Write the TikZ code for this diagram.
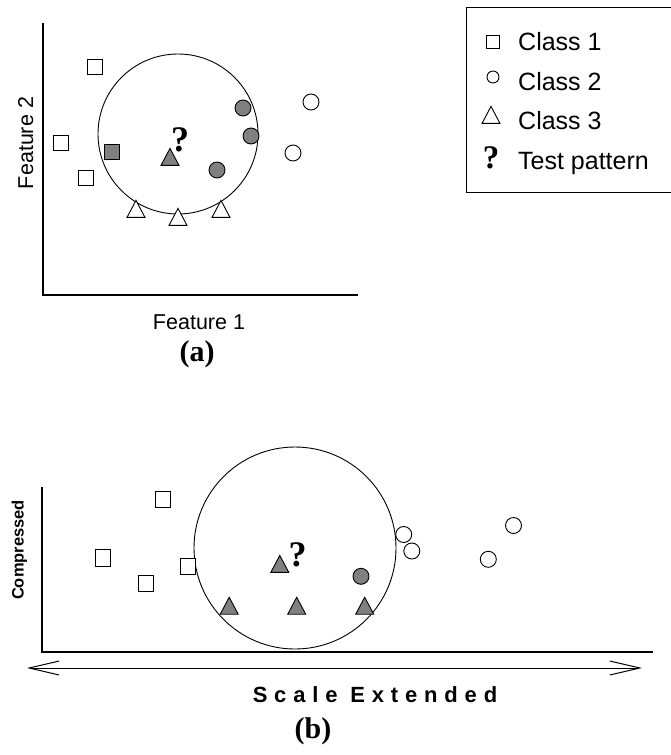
\documentclass[tikz,border=0pt]{standalone}
\usepackage{fontspec}
\setmainfont{Liberation Sans}
\newfontfamily\tnr{Liberation Serif}
\newfontfamily\spaced[LetterSpace=31]{Liberation Sans}
\usetikzlibrary{shapes.geometric,arrows.meta}
\begin{document}
\begin{tikzpicture}[x=1pt,y=-1pt,
  ln/.style={line width=0.9pt},
  sq/.style={draw, ln, rectangle, inner sep=0, minimum width=15, minimum height=15, fill=white},
  sqb/.style={sq, minimum height=16.5},
  dot/.style={draw, ln, circle, inner sep=0, minimum size=16, fill=white},
  tri/.style={draw, ln, isosceles triangle, shape border rotate=90, isosceles triangle stretches,
              minimum width=18, minimum height=17, inner sep=0, fill=white},
  filled/.style={fill=gray},
  qm/.style={inner sep=0, font=\tnr\bfseries\fontsize{36}{40}\selectfont},
  leg/.style={anchor=base west, inner sep=0, font=\fontsize{25}{30}\selectfont},
  axlab/.style={inner sep=0, font=\fontsize{21.5}{26}\selectfont},
  panelcap/.style={anchor=base, inner sep=0, font=\tnr\bfseries\fontsize{30}{34}\selectfont},
  bigc/.style={draw, ln, circle, inner sep=0}
]
\useasboundingbox (0,0) rectangle (670,755);

% ---------- legend ----------
\draw[ln] (675,7) -- (466,7) -- (466,192) -- (675,192);
\node[sq, minimum width=13, minimum height=13] (lsq) at (493,42) {};
\node[leg] (l1) at (518,50) {Class 1};
\node[dot, minimum size=12] (lci) at (493,77) {};
\node[leg] (l2) at (518,90) {Class 2};
\node[tri] (ltr) at (491,118) {};
\node[leg] (l3) at (518,129) {Class 3};
\node[qm, font=\tnr\bfseries\fontsize{33}{36}\selectfont] (lq) at (491,158) {?};
\node[leg] (l4) at (518,169) {Test pattern};

% ---------- panel (a) ----------
\coordinate (aTop) at (43,23);
\coordinate (aOrg) at (43,295);
\coordinate (aRight) at (358,295);
\draw[line width=1.1pt] (aTop) -- (aOrg) -- (aRight);
\node[bigc, minimum size=160] (aC) at (178,134) {};

\node[sq] (as1) at (95,67) {};
\node[sq] (as2) at (61,143) {};
\node[sq] (as3) at (86,178) {};
\node[sq, filled] (as4) at (112,152) {};

\node[dot, filled] (ac1) at (243,108) {};
\node[dot, filled] (ac2) at (251,136) {};
\node[dot, filled] (ac3) at (217,170) {};
\node[dot] (ac4) at (311,102) {};
\node[dot] (ac5) at (293,153) {};

\node[tri] (at1) at (136,212) {};
\node[tri] (at2) at (178,220) {};
\node[tri] (at3) at (221,212) {};
\node[tri, filled] (at4) at (170,160) {};
\node[qm] (aq) at (180,139.5) {?};

\node[axlab, rotate=90, anchor=base] (af2) at (33,143) {Feature 2};
\node[axlab, anchor=base] (af1) at (199,329) {Feature 1};
\node[panelcap] (acap) at (197,361) {(a)};

% ---------- panel (b) ----------
\coordinate (bTop) at (42,487);
\coordinate (bOrg) at (42,652);
\coordinate (bRight) at (653,652);
\draw[line width=1.1pt] (bTop) -- (bOrg) -- (bRight);
\node[bigc, minimum size=202] (bC) at (295,548) {};

\node[sqb] (bs1) at (163,499.5) {};
\node[sqb] (bs2) at (103.3,557.7) {};
\node[sqb] (bs3) at (145.8,583.3) {};
\node[sqb] (bs4) at (187.7,566.3) {};

\node[dot] (bc1) at (403.7,534.5) {};
\node[dot] (bc2) at (411.8,551) {};
\node[dot] (bc3) at (513.5,525.5) {};
\node[dot] (bc4) at (488.3,559.3) {};
\node[dot, filled] (bc5) at (361,576.3) {};

\node[tri, filled] (bt1) at (229.2,608.8) {};
\node[tri, filled] (bt2) at (296.7,608.8) {};
\node[tri, filled] (bt3) at (364.7,608.8) {};
\node[tri, filled] (bt4) at (279.8,567) {};
\node[qm] (bq) at (297.5,554.5) {?};

\node[rotate=90, anchor=base, inner sep=0, font=\bfseries\fontsize{16.5}{20}\selectfont] (bcomp) at (23.5,550) {Compressed};

\coordinate (arL) at (27,668);
\coordinate (arR) at (642,668);
\draw[line width=1pt, {Straight Barb[length=30pt,width=14pt,line width=1pt]}-{Straight Barb[length=30pt,width=14pt,line width=1pt]}] (arL) -- (arR);

\node[anchor=base, inner sep=0, font=\spaced\bfseries\fontsize{22}{26}\selectfont] (bscale) at (375,702) {Scale Extended};
\node[panelcap] (bcap) at (313,738) {(b)};
\end{tikzpicture}
\end{document}
